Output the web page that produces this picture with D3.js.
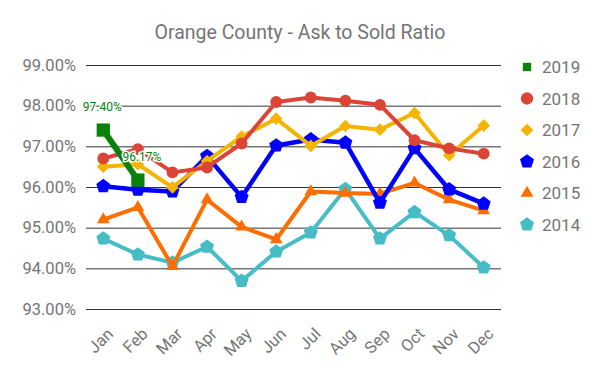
<!DOCTYPE html>
<html><head><meta charset="utf-8">
<script src="https://cdn.jsdelivr.net/npm/d3@7"></script>
<style>body{margin:0;background:#fff}svg{display:block;font-family:Roboto,sans-serif}</style>
</head><body><svg id="c" width="600" height="371"></svg>
<script>
const months = ["Jan","Feb","Mar","Apr","May","Jun","Jul","Aug","Sep","Oct","Nov","Dec"];
const yTicks = [93,94,95,96,97,98,99];
const s2019 = [97.40, 96.17];
const s2018 = [96.70, 96.93, 96.36, 96.48, 97.07, 98.09, 98.20, 98.12, 98.02, 97.15, 96.95, 96.82];
const s2017 = [96.50, 96.56, 95.99, 96.64, 97.24, 97.68, 97.01, 97.50, 97.41, 97.82, 96.78, 97.51];
const s2016 = [96.02, 95.93, 95.89, 96.76, 95.75, 97.02, 97.17, 97.09, 95.61, 96.95, 95.94, 95.59];
const s2015 = [95.20, 95.50, 94.05, 95.69, 95.02, 94.71, 95.89, 95.85, 95.83, 96.10, 95.69, 95.42];
const s2014 = [94.73, 94.34, 94.14, 94.53, 93.69, 94.41, 94.88, 95.95, 94.73, 95.38, 94.81, 94.02];

const series = [
  {name:"2019", values:s2019, color:"#0b800b", shape:"square", width:6, labels:true},
  {name:"2018", values:s2018, color:"#db4437", shape:"circle", width:4},
  {name:"2017", values:s2017, color:"#f4b400", shape:"diamond", width:4},
  {name:"2016", values:s2016, color:"#0000ff", shape:"pentagon", width:4.5},
  {name:"2015", values:s2015, color:"#ff6d00", shape:"triangle", width:4},
  {name:"2014", values:s2014, color:"#46bdc6", shape:"pentagon", width:4}
];

const svg = d3.select("#c");
const x = d3.scaleBand().domain(months).range([86, 501]);
const y = d3.scaleLinear().domain([93, 99]).range([309, 65]);
const cx = m => x(m) + x.bandwidth()/2;

svg.append("text").attr("x", 300).attr("y", 39).attr("text-anchor","middle")
  .attr("font-size", 19.5).attr("fill", "#757575").text("Orange County - Ask to Sold Ratio");

// gridlines
const g = svg.append("g");
g.selectAll("line").data(yTicks).join("line")
  .attr("x1", 86).attr("x2", 501).attr("y1", d=>y(d)+0.5).attr("y2", d=>y(d)+0.5)
  .attr("stroke", "#333").attr("stroke-width", 1);
const yAxis = d3.axisLeft(y).tickValues(yTicks).tickSize(0).tickPadding(10)
  .tickFormat(d => d.toFixed(2) + "%");
svg.append("g").attr("transform","translate(86,0)").call(yAxis)
  .call(a => a.select(".domain").remove())
  .selectAll("text").attr("font-size", 16.5).attr("fill","#757575").attr("font-family","Roboto,sans-serif");

const xAxis = d3.axisBottom(x).tickSize(0);
svg.append("g").attr("transform","translate(0,309)").call(xAxis)
  .call(a => a.select(".domain").remove())
  .selectAll("text").attr("font-size", 16.5).attr("fill","#757575").attr("font-family","Roboto,sans-serif")
  .attr("text-anchor","end").attr("dy", null).attr("y", 0)
  .attr("transform", "translate(11,26) rotate(-45)");

function symFor(shape, size) {
  const t = {square:d3.symbolSquare, circle:d3.symbolCircle, triangle:d3.symbolTriangle};
  if (shape === "pentagon") {
    const r = Math.sqrt(size/2.4);
    const pts = d3.range(5).map(i => {const a = -Math.PI/2 + i*2*Math.PI/5; return [r*Math.cos(a), r*Math.sin(a)];});
    return "M" + pts.map(p=>p.join(",")).join("L") + "Z";
  }
  if (shape === "diamond") {
    const r = Math.sqrt(size/2);
    return `M0,${-r}L${r},0L0,${r}L${-r},0Z`;
  }
  return d3.symbol(t[shape], size)();
}
const markerSize = {square:110, circle:110, diamond:80, triangle:70, pentagon:130};

const line = d3.line().x((d,i)=>cx(months[i])).y(d=>y(d));
const order = series.slice().reverse();
order.forEach(s => {
  const gg = svg.append("g");
  gg.append("path").attr("d", line(s.values)).attr("fill","none")
    .attr("stroke", s.color).attr("stroke-width", s.width).attr("stroke-linejoin","round");
  gg.selectAll("path.m").data(s.values).join("path").attr("class","m")
    .attr("transform",(d,i)=>`translate(${cx(months[i])},${y(d)})`)
    .attr("d", symFor(s.shape, markerSize[s.shape] * (s.shape==="square"?1.6:1)))
    .attr("fill", s.color);
  if (s.labels) {
    gg.selectAll("text").data(s.values).join("text")
      .attr("x",(d,i)=>cx(months[i]) + (i===0? -1 : 4))
      .attr("y",(d,i)=>y(d) - 19)
      .attr("text-anchor","middle").attr("font-size", 12)
      .attr("fill", s.color).attr("stroke","#fff").attr("stroke-width",3).attr("paint-order","stroke")
      .text(d => d.toFixed(2) + "%");
  }
});

// legend
const leg = svg.append("g");
series.forEach((s,i) => {
  const ly = 67 + i*31.5;
  leg.append("path").attr("transform",`translate(527,${ly})`)
    .attr("d", symFor(s.shape, s.shape==="circle"?120:(s.shape==="square"?70:markerSize[s.shape])))
    .attr("fill", s.color);
  leg.append("text").attr("x", 542).attr("y", ly+6).attr("font-size", 17)
    .attr("fill","#757575").text(s.name);
});
</script></body></html>
